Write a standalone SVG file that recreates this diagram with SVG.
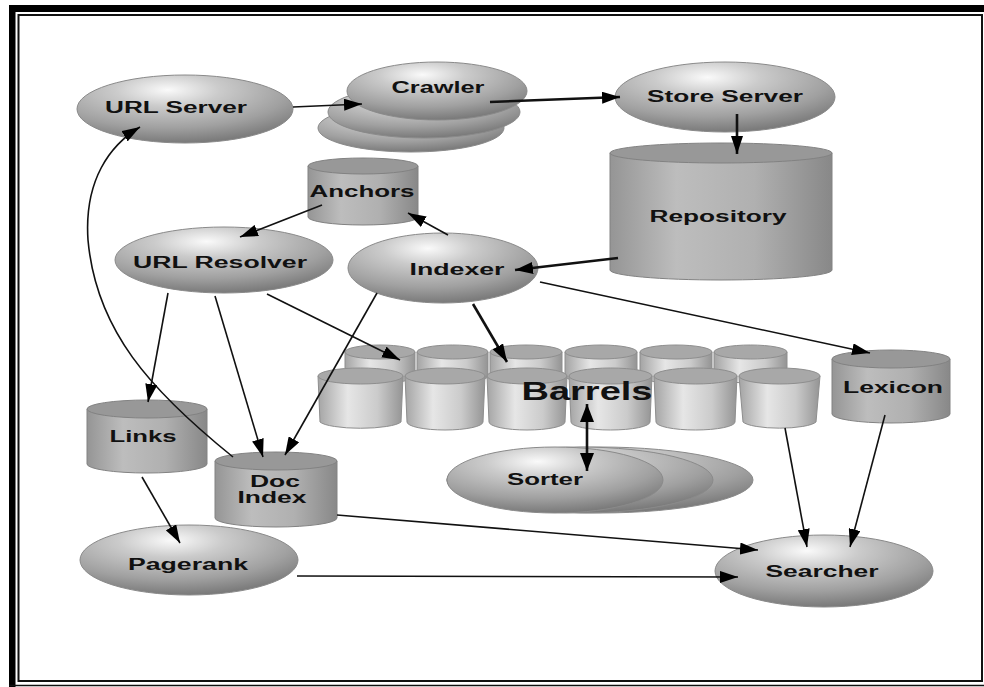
<svg xmlns="http://www.w3.org/2000/svg" width="984" height="687" viewBox="0 0 984 687">
<defs>
<radialGradient id="eg" cx="0.42" cy="0.22" r="0.8">
<stop offset="0" stop-color="#fafafa"/>
<stop offset="0.3" stop-color="#cbcbcb"/>
<stop offset="0.7" stop-color="#a0a0a0"/>
<stop offset="1" stop-color="#767676"/>
</radialGradient>
<linearGradient id="cg" x1="0" y1="0" x2="1" y2="0">
<stop offset="0" stop-color="#959595"/>
<stop offset="0.3" stop-color="#bdbdbd"/>
<stop offset="0.65" stop-color="#b0b0b0"/>
<stop offset="1" stop-color="#888"/>
</linearGradient>
<linearGradient id="bg" x1="0" y1="0" x2="1" y2="0">
<stop offset="0" stop-color="#a4a4a4"/>
<stop offset="0.35" stop-color="#e6e6e6"/>
<stop offset="0.7" stop-color="#cbcbcb"/>
<stop offset="1" stop-color="#949494"/>
</linearGradient>
<marker id="ah" markerUnits="userSpaceOnUse" markerWidth="20" markerHeight="12" refX="18" refY="6" orient="auto">
<path d="M0,0 L18,6 L0,12 z" fill="#000"/>
</marker>
<marker id="ahb" markerUnits="userSpaceOnUse" markerWidth="20" markerHeight="14" refX="18" refY="7" orient="auto-start-reverse">
<path d="M0,0 L18,7 L0,14 z" fill="#000"/>
</marker>
</defs>
<style>
.ell{fill:url(#eg);stroke:#8a8a8a;stroke-width:1}
.cyl{fill:url(#cg);stroke:#828282;stroke-width:1}
.cap{fill:#989898;stroke:#828282;stroke-width:1}
.bar{fill:url(#bg);stroke:#8e8e8e;stroke-width:1}
.bcap{fill:#a8a8a8;stroke:#8e8e8e;stroke-width:1}
.lbl{font-family:"Liberation Sans",Arial,sans-serif;font-weight:bold;font-size:16px;fill:#111;text-anchor:middle}
.big{font-family:"Liberation Sans",Arial,sans-serif;font-weight:bold;font-size:25px;fill:#111;text-anchor:middle}
.con{fill:none;stroke:#111;stroke-width:1.6}
.thk{stroke-width:2.6}
</style>
<rect width="984" height="687" fill="#fff"/>
<g id="frame">
<rect x="9" y="5" width="975" height="7" fill="#000"/>
<rect x="9" y="5" width="6.5" height="682" fill="#000"/>
<rect x="18.5" y="15" width="963.5" height="666" fill="none" stroke="#111" stroke-width="2"/>
<line x1="9" y1="685.5" x2="984" y2="685.5" stroke="#111" stroke-width="1.5"/>
</g>

<g id="url-server"><ellipse class="ell" cx="185" cy="109" rx="108" ry="34"/><text class="lbl" x="176" y="113" textLength="142" lengthAdjust="spacingAndGlyphs">URL Server</text></g>
<g id="crawler">
<ellipse class="ell" cx="411" cy="128" rx="93" ry="24"/>
<ellipse class="ell" cx="424" cy="112" rx="96" ry="26"/>
<ellipse class="ell" cx="437" cy="91" rx="90" ry="29"/>
<text class="lbl" x="438" y="93" textLength="93" lengthAdjust="spacingAndGlyphs">Crawler</text></g>
<g id="store-server"><ellipse class="ell" cx="725" cy="97" rx="110" ry="35"/><text class="lbl" x="725" y="102" textLength="156" lengthAdjust="spacingAndGlyphs">Store Server</text></g>
<g id="repository"><path class="cyl" d="M610,153 L610,270 A111,10 0 0 0 832,270 L832,153 Z"/><ellipse class="cap" cx="721" cy="153" rx="111" ry="10"/><text class="lbl" x="718" y="222" textLength="137" lengthAdjust="spacingAndGlyphs">Repository</text></g>
<g id="anchors"><path class="cyl" d="M308,166 L308,217 A55,8 0 0 0 418,217 L418,166 Z"/><ellipse class="cap" cx="363" cy="166" rx="55" ry="8"/><text class="lbl" x="362" y="197" textLength="105" lengthAdjust="spacingAndGlyphs">Anchors</text></g>
<g id="url-resolver"><ellipse class="ell" cx="224" cy="260" rx="109" ry="33"/><text class="lbl" x="220" y="268" textLength="174" lengthAdjust="spacingAndGlyphs">URL Resolver</text></g>
<g id="indexer"><ellipse class="ell" cx="443" cy="268" rx="95" ry="35"/><text class="lbl" x="457" y="275" textLength="95" lengthAdjust="spacingAndGlyphs">Indexer</text></g>
<g id="links"><path class="cyl" d="M87,409 L87,464 A60,9 0 0 0 207,464 L207,409 Z"/><ellipse class="cap" cx="147" cy="409" rx="60" ry="9"/><text class="lbl" x="143" y="442" textLength="67" lengthAdjust="spacingAndGlyphs">Links</text></g>
<g id="doc-index"><path class="cyl" d="M215,461 L215,518 A61,9 0 0 0 337,518 L337,461 Z"/><ellipse class="cap" cx="276" cy="461" rx="61" ry="9"/><text class="lbl" x="275" y="487" textLength="50" lengthAdjust="spacingAndGlyphs">Doc</text><text class="lbl" x="272" y="503" textLength="69" lengthAdjust="spacingAndGlyphs">Index</text></g>
<g id="pagerank"><ellipse class="ell" cx="189" cy="560" rx="109" ry="35"/><text class="lbl" x="188" y="570" textLength="120" lengthAdjust="spacingAndGlyphs">Pagerank</text></g>
<g id="barrels">
<path class="bar" d="M345,352 L345,376 A35,7 0 0 0 415,376 L415,352 Z"/><ellipse class="bcap" cx="380" cy="352" rx="35" ry="7"/>
<path class="bar" d="M417,352 L417,376 A35.5,7 0 0 0 488,376 L488,352 Z"/><ellipse class="bcap" cx="452.5" cy="352" rx="35.5" ry="7"/>
<path class="bar" d="M490,352 L490,376 A36,7 0 0 0 562,376 L562,352 Z"/><ellipse class="bcap" cx="526" cy="352" rx="36" ry="7"/>
<path class="bar" d="M565,352 L565,376 A36,7 0 0 0 637,376 L637,352 Z"/><ellipse class="bcap" cx="601" cy="352" rx="36" ry="7"/>
<path class="bar" d="M640,352 L640,376 A36,7 0 0 0 712,376 L712,352 Z"/><ellipse class="bcap" cx="676" cy="352" rx="36" ry="7"/>
<path class="bar" d="M714,352 L714,376 A36.5,7 0 0 0 787,376 L787,352 Z"/><ellipse class="bcap" cx="750.5" cy="352" rx="36.5" ry="7"/>
<path class="bar" d="M318,376 L320,422 A41.5,8 0 0 0 401,422 L403,376 Z"/><ellipse class="bcap" cx="360.5" cy="376" rx="42.5" ry="8"/>
<path class="bar" d="M405,376 L407,422 A38,8 0 0 0 483,422 L485,376 Z"/><ellipse class="bcap" cx="445" cy="376" rx="40" ry="8"/>
<path class="bar" d="M487,376 L489,422 A38,8 0 0 0 565,422 L567,376 Z"/><ellipse class="bcap" cx="527" cy="376" rx="40" ry="8"/>
<path class="bar" d="M569,376 L571,422 A39.5,8 0 0 0 650,422 L652,376 Z"/><ellipse class="bcap" cx="610.5" cy="376" rx="41.5" ry="8"/>
<path class="bar" d="M654,376 L656,422 A39.5,8 0 0 0 735,422 L737,376 Z"/><ellipse class="bcap" cx="695.5" cy="376" rx="41.5" ry="8"/>
<path class="bar" d="M739,376 L743,422 A37.5,8 0 0 0 816,422 L820,376 Z"/><ellipse class="bcap" cx="779.5" cy="376" rx="40.5" ry="8"/>
<text class="big" x="587" y="400" textLength="131" lengthAdjust="spacingAndGlyphs">Barrels</text>
</g>
<g id="lexicon"><path class="cyl" d="M832,359 L832,414 A59,9 0 0 0 950,414 L950,359 Z"/><ellipse class="cap" cx="891" cy="359" rx="59" ry="9"/><text class="lbl" x="893" y="393" textLength="100" lengthAdjust="spacingAndGlyphs">Lexicon</text></g>
<g id="sorter">
<ellipse class="ell" cx="600" cy="480" rx="153" ry="33"/>
<ellipse class="ell" cx="580" cy="480" rx="133" ry="33"/>
<ellipse class="ell" cx="555" cy="480" rx="108" ry="33"/>
<text class="lbl" x="545" y="485" textLength="76" lengthAdjust="spacingAndGlyphs">Sorter</text></g>
<g id="searcher"><ellipse class="ell" cx="824" cy="571" rx="109" ry="36"/><text class="lbl" x="822" y="577" textLength="113" lengthAdjust="spacingAndGlyphs">Searcher</text></g>

<g id="connectors">
<line class="con" x1="293" y1="107" x2="362" y2="104" marker-end="url(#ah)"/>
<line class="con thk" x1="490" y1="102" x2="620" y2="97" marker-end="url(#ah)"/>
<line class="con thk" x1="737" y1="114" x2="737" y2="154" marker-end="url(#ah)"/>
<line class="con thk" x1="618" y1="258" x2="515" y2="270" marker-end="url(#ah)"/>
<line class="con" x1="448" y1="235" x2="408" y2="213" marker-end="url(#ah)"/>
<line class="con" x1="322" y1="205" x2="240" y2="237" marker-end="url(#ah)"/>
<path class="con" d="M233,457 C150,390 96,330 88,240 C84,180 110,145 140,127" marker-end="url(#ah)"/>
<line class="con" x1="168" y1="293" x2="148" y2="402" marker-end="url(#ah)"/>
<line class="con" x1="215" y1="296" x2="263" y2="457" marker-end="url(#ah)"/>
<line class="con" x1="267" y1="294" x2="400" y2="360" marker-end="url(#ah)"/>
<line class="con" x1="377" y1="293" x2="285" y2="455" marker-end="url(#ah)"/>
<line class="con thk" x1="473" y1="304" x2="507" y2="362" marker-end="url(#ah)"/>
<line class="con" x1="540" y1="282" x2="870" y2="353" marker-end="url(#ah)"/>
<line class="con thk" x1="587" y1="404" x2="587" y2="471" marker-start="url(#ahb)" marker-end="url(#ahb)"/>
<line class="con" x1="785" y1="428" x2="807" y2="547" marker-end="url(#ah)"/>
<line class="con" x1="885" y1="415" x2="850" y2="547" marker-end="url(#ah)"/>
<line class="con" x1="337" y1="515" x2="758" y2="550" marker-end="url(#ah)"/>
<line class="con" x1="297" y1="576" x2="738" y2="577" marker-end="url(#ah)"/>
<line class="con" x1="142" y1="477" x2="180" y2="543" marker-end="url(#ah)"/>
</g>
</svg>
